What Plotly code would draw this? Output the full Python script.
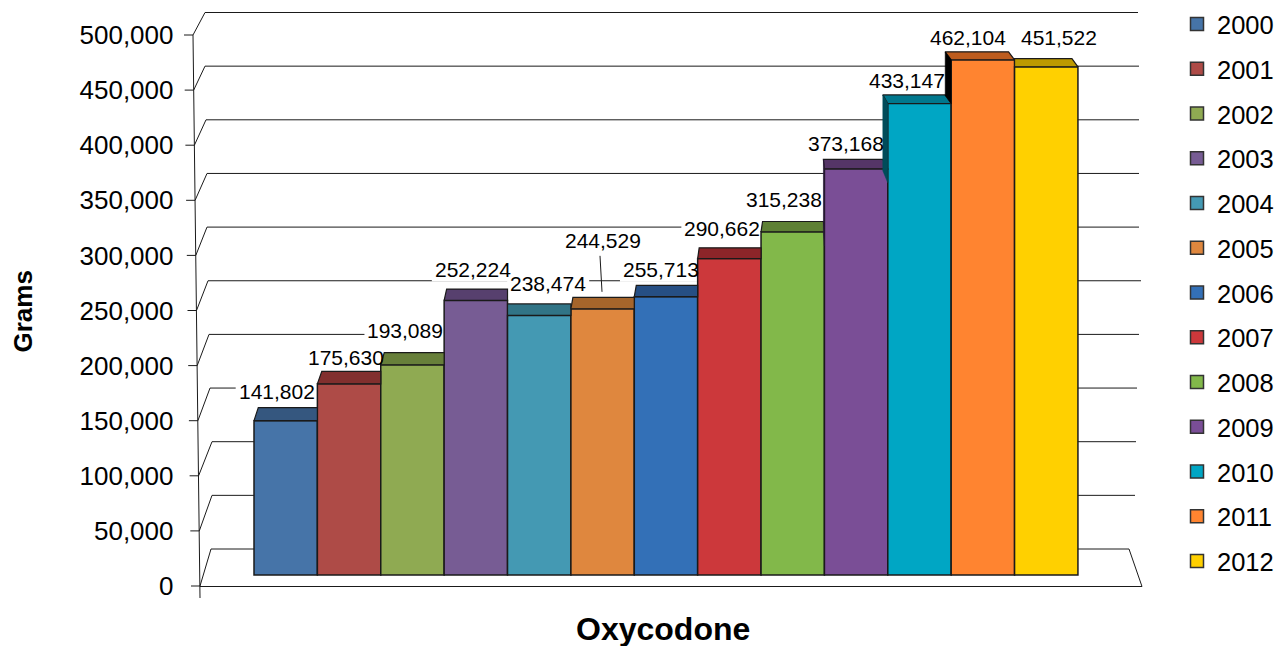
import plotly.graph_objects as go

# ---- data ----
YEARS = ["2000", "2001", "2002", "2003", "2004", "2005", "2006", "2007", "2008", "2009", "2010", "2011", "2012"]
VALUE_LABELS = ["141,802", "175,630", "193,089", "252,224", "238,474", "244,529", "255,713",
                "290,662", "315,238", "373,168", "433,147", "462,104", "451,522"]
# Bar heights as drawn (the last two bars are drawn taller than their printed labels)
BAR_HEIGHTS = [141802, 175630, 193089, 252224, 238474, 244529, 255713,
               290662, 315238, 373168, 433147, 473300, 466900]
TICK_VALUES = [0, 50000, 100000, 150000, 200000, 250000, 300000, 350000, 400000, 450000, 500000]
TICK_TEXT = ["0", "50,000", "100,000", "150,000", "200,000", "250,000", "300,000",
             "350,000", "400,000", "450,000", "500,000"]

# ---- styles ----
FRONT_COLORS = ["#4674A8", "#AE4B47", "#8FAA52", "#775C94", "#4499B3", "#DF873E", "#3370B7",
                "#CC383B", "#82B84A", "#7A4E96", "#00A6C4", "#FF8430", "#FFD000"]
TOP_COLORS = ["#35577F", "#822F2E", "#677F3A", "#57406E", "#317486", "#A5652B", "#264F84",
              "#8C2529", "#5E8034", "#553567", "#00788E", "#BD5C1E", "#BD9A00"]
SIDE_COLORS = {9: "#2A1A3A", 10: "#004C5A", 11: "#000000"}
LINE = "#1a1a1a"
FONT = "Liberation Sans"

# ---- geometry (page pixels) ----
W, H = 1278, 646
BAR_LEFT, BAR_W, BAR_BASE = 254.0, 63.38, 575.0
BAR_SCALE = 1.0885e-3
FRONT_BASE, FRONT_SCALE = 586.0, 1.102e-3
BACK_BASE, BACK_SCALE = 549.0, 1.073e-3
EDGE_DX = [4.3, 4.4, 3.5, 2.5, 2, 2, 2, 1.5, 1.5, -1, -5, -6, -6, -6]
LABEL_DX = [-9, -3, -7, -3, 9, 0, -5, -7, -9, -10, -12, -15, 13]
LABEL_DY = [29, 26, 34, 31, 32, 68, 27, 30, 32, 25, 23, 22, 29]
BACK_LEFT = [211, 212, 212, 210, 209, 208, 207, 207, 206, 205, 205]
BACK_RIGHT = [1129, 1135, 1136, 1137, 1139, 1141, 1139, 1139, 1139, 1139, 1138]


def xd(px):
    return (px - BAR_LEFT) / BAR_W - 0.5


def bv(py):          # pixel row -> bar-plane value
    return (BAR_BASE - py) / BAR_SCALE


def fv(py):          # pixel row -> front-plane value
    return (FRONT_BASE - py) / FRONT_SCALE


def top_px(v):
    return BAR_BASE - v * BAR_SCALE


def depth_dy(py):
    return -8 - 5.0 * (py - 60) / (421 - 60)


fig = go.Figure()

# ---- walls, on the front-plane axes (drawn under the bars) ----
wx, wy = [], []
for i, t in enumerate(TICK_VALUES):
    fy = FRONT_BASE - t * FRONT_SCALE
    by = BACK_BASE - t * BACK_SCALE
    fx = 200 - 7 * t / 500000
    wx += [xd(fx - 9), xd(fx), xd(BACK_LEFT[i]), xd(BACK_RIGHT[i]), None]
    wy += [fv(fy), fv(fy), fv(by), fv(by), None]
wx += [xd(200), xd(193), None, xd(200), xd(1142), xd(1129), None]
wy += [fv(598), fv(35), None, fv(586.5), fv(586.5), fv(BACK_BASE), None]
fig.add_trace(go.Scatter(x=wx, y=wy, mode="lines", line=dict(color=LINE, width=1),
                         showlegend=False, hoverinfo="skip", xaxis="x", yaxis="y"))

# white backing behind the value labels (hides wall lines only)
bx, by_ = [], []
for i, v in enumerate(BAR_HEIGHTS):
    cx = BAR_LEFT + BAR_W * (i + 0.5) + LABEL_DX[i]
    cy = top_px(v) - LABEL_DY[i]
    x0, x1, y0, y1 = cx - 41, cx + 41, cy - 12, cy + 12
    bx += [xd(x0), xd(x1), xd(x1), xd(x0), xd(x0), None]
    by_ += [fv(y0), fv(y0), fv(y1), fv(y1), fv(y0), None]
fig.add_trace(go.Scatter(x=bx, y=by_, mode="lines", fill="toself", fillcolor="white",
                         line=dict(width=0), showlegend=False, hoverinfo="skip",
                         xaxis="x", yaxis="y"))

# ---- bar fronts ----
for i, (yr, v) in enumerate(zip(YEARS, BAR_HEIGHTS)):
    fig.add_trace(go.Bar(x=[i], y=[v], width=1, name=yr, legendgroup=yr, showlegend=False,
                         marker=dict(color=FRONT_COLORS[i], line=dict(color=LINE, width=1.5)),
                         xaxis="x2", yaxis="y2", hoverinfo="skip"))

# ---- bar tops and visible left sides ----
n = len(BAR_HEIGHTS)
for i, v in enumerate(BAR_HEIGHTS):
    x0, x1 = BAR_LEFT + BAR_W * i, BAR_LEFT + BAR_W * (i + 1)
    ty = top_px(v)
    dy = depth_dy(ty)
    prev_v = BAR_HEIGHTS[i - 1] if i else -1
    left_back = x0 + EDGE_DX[i] if prev_v < v else x0
    right_back = min(x1, x1 + EDGE_DX[i + 1])
    fig.add_trace(go.Scatter(
        x=[xd(p) for p in (x0, x1, right_back, left_back, x0)],
        y=[bv(p) for p in (ty, ty, ty + dy, ty + dy, ty)],
        mode="lines", fill="toself", fillcolor=TOP_COLORS[i], line=dict(color=LINE, width=1.2),
        showlegend=False, hoverinfo="skip", xaxis="x2", yaxis="y2"))
    if i in SIDE_COLORS:
        py = top_px(prev_v)
        fig.add_trace(go.Scatter(
            x=[xd(p) for p in (x0 + EDGE_DX[i], x0, x0, x0 + EDGE_DX[i], x0 + EDGE_DX[i])],
            y=[bv(p) for p in (ty + dy, ty, py + 14 - (i == 11) * 14, py + 2 - (i == 11) * 10, ty + dy)],
            mode="lines", fill="toself", fillcolor=SIDE_COLORS[i],
            line=dict(color=SIDE_COLORS[i], width=0.5),
            showlegend=False, hoverinfo="skip", xaxis="x2", yaxis="y2"))

# leader line of the 2005 label
ty5 = top_px(BAR_HEIGHTS[5])
fig.add_trace(go.Scatter(x=[xd(600), xd(602)], y=[bv(ty5 - 53), bv(ty5 - 17)], mode="lines",
                         line=dict(color=LINE, width=1), showlegend=False, hoverinfo="skip",
                         xaxis="x2", yaxis="y2"))

# ---- legend keys, one per year, tied to the bars through legendgroup ----
for i, yr in enumerate(YEARS):
    fig.add_trace(go.Scatter(x=[None], y=[None], mode="markers", name=yr, legendgroup=yr,
                             marker=dict(symbol="square", size=13, color=FRONT_COLORS[i],
                                         line=dict(color="#333333", width=1.5)),
                             hoverinfo="skip", xaxis="x2", yaxis="y2"))

# ---- value labels ----
for i, (txt, v) in enumerate(zip(VALUE_LABELS, BAR_HEIGHTS)):
    fig.add_annotation(x=i, y=v, xref="x2", yref="y2", text=txt, showarrow=False,
                       xshift=LABEL_DX[i], yshift=LABEL_DY[i], yanchor="middle", xanchor="center",
                       font=dict(family=FONT, size=21, color="black"))

fig.add_annotation(x=22.5 / W, y=1 - 312 / H, xref="paper", yref="paper", text="<b>Grams</b>",
                   textangle=-90, showarrow=False, xanchor="center", yanchor="middle",
                   font=dict(family=FONT, size=26, color="black"))
fig.add_annotation(x=663 / W, y=1 - 629 / H, xref="paper", yref="paper", text="<b>Oxycodone</b>",
                   showarrow=False, xanchor="center", yanchor="middle",
                   font=dict(family=FONT, size=32, color="black"))

hidden = dict(visible=False, showgrid=False, zeroline=False, fixedrange=True)
fig.update_layout(
    width=W, height=H, margin=dict(l=0, r=0, t=0, b=0, autoexpand=False),
    paper_bgcolor="white", plot_bgcolor="white", barmode="overlay",
    font=dict(family=FONT, color="black"),
    xaxis=dict(range=[xd(0), xd(W)], **hidden),
    xaxis2=dict(range=[xd(0), xd(W)], overlaying="x", anchor="y2", **hidden),
    yaxis=dict(range=[fv(H), fv(0)], anchor="free", position=173.5 / W, side="left",
               tickmode="array", tickvals=TICK_VALUES, ticktext=TICK_TEXT,
               showgrid=False, zeroline=False, showline=False, ticks="",
               tickfont=dict(family=FONT, size=26, color="black"), fixedrange=True),
    yaxis2=dict(range=[bv(H), bv(0)], overlaying="y", anchor="x2", **hidden),
    legend=dict(x=1177 / W, y=1 - 1 / H, xanchor="left", yanchor="top", bgcolor="rgba(0,0,0,0)",
                font=dict(family=FONT, size=25.5, color="black"), tracegroupgap=8.6,
                itemwidth=30),
)

fig.write_html("out.html", config=dict(displayModeBar=False),
               post_script="document.body.style.margin='0';document.body.style.overflow='hidden';")
